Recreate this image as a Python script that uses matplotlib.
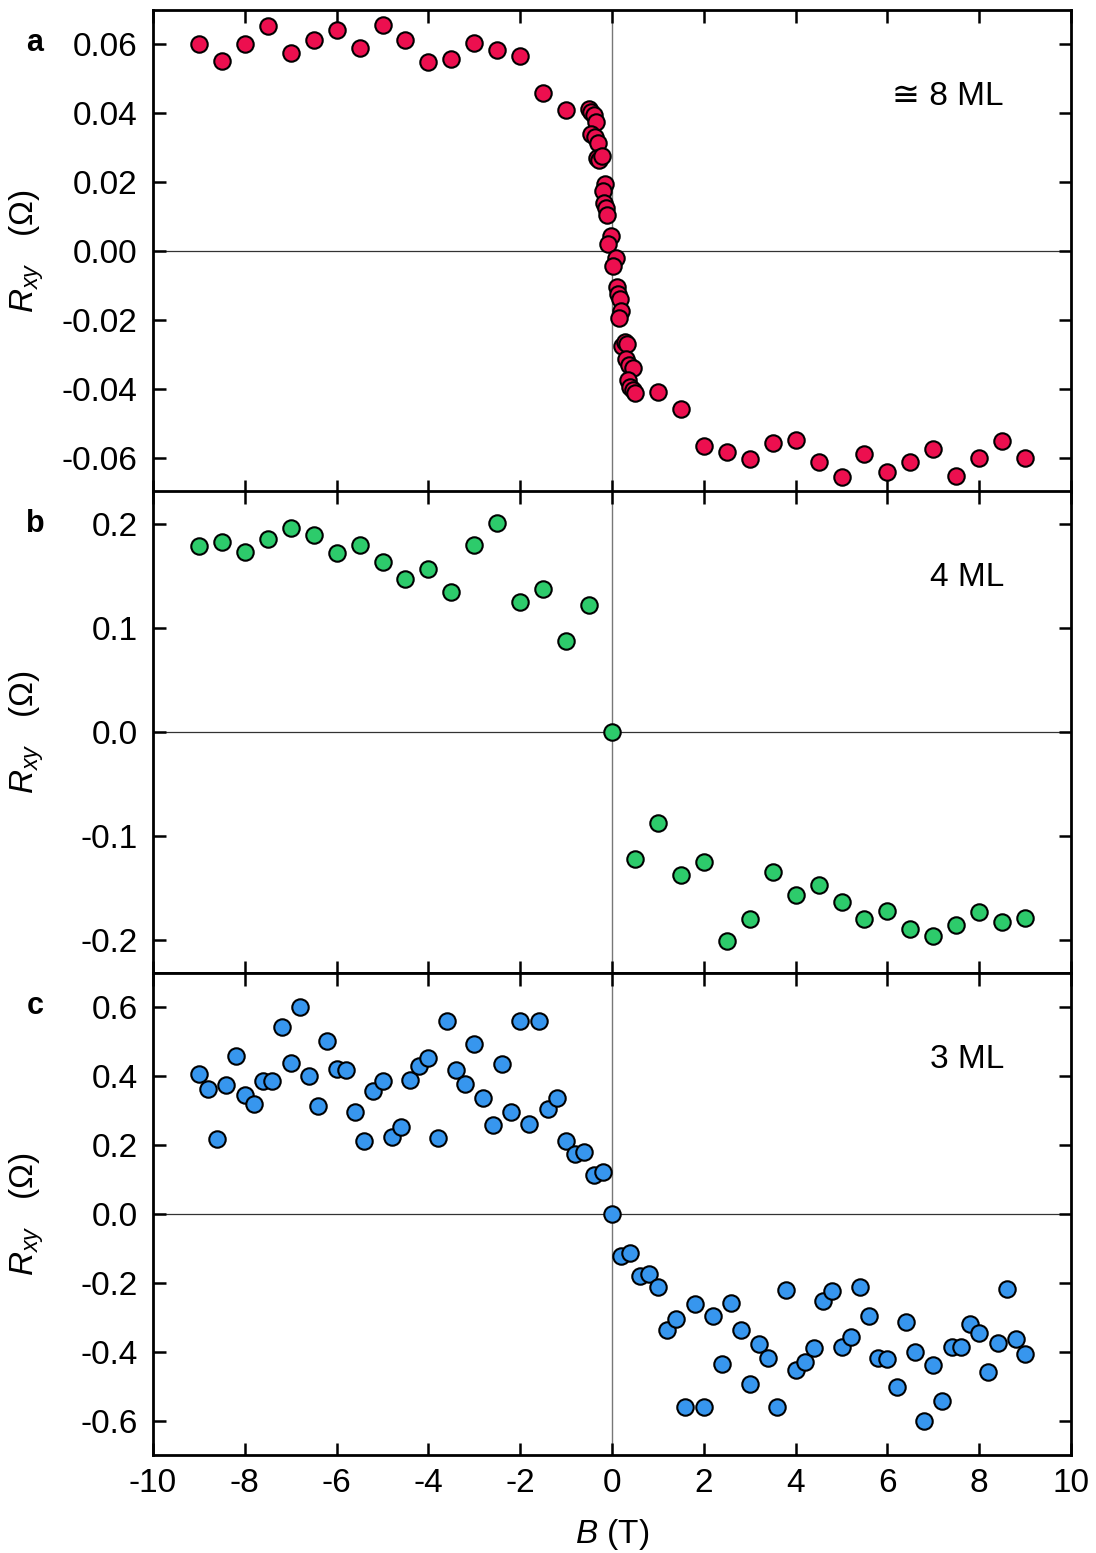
import matplotlib
matplotlib.use("Agg")
import matplotlib.pyplot as plt
from matplotlib.ticker import FormatStrFormatter, MultipleLocator

plt.rcParams['font.family'] = ['Liberation Sans', 'DejaVu Sans']
plt.rcParams['axes.unicode_minus'] = False
plt.rcParams['mathtext.fontset'] = 'custom'
plt.rcParams['mathtext.rm'] = 'Liberation Sans'
plt.rcParams['mathtext.it'] = 'Liberation Sans:italic'

# ---------------- data ----------------
# panel a (~8 ML)
B_a = [-9.0, -8.5, -8.0, -7.5, -7.0, -6.5, -6.0, -5.5, -5.0, -4.5, -4.0, -3.5, -3.0, -2.5, -2.0, -1.5, -1.0,
       -0.50, -0.45, -0.40, -0.35, -0.45, -0.38, -0.30, -0.33, -0.28, -0.22, -0.15, -0.20, -0.17, -0.13, -0.10, -0.03, -0.08,
       0.08, 0.03, 0.10, 0.13, 0.17, 0.20, 0.15, 0.22, 0.28, 0.33, 0.30, 0.38, 0.45, 0.35, 0.40, 0.45, 0.50,
       1.0, 1.5, 2.0, 2.5, 3.0, 3.5, 4.0, 4.5, 5.0, 5.5, 6.0, 6.5, 7.0, 7.5, 8.0, 8.5, 9.0]
R_a = [0.0602, 0.0551, 0.0601, 0.0653, 0.0575, 0.0612, 0.0643, 0.0590, 0.0656, 0.0614, 0.0549, 0.0559, 0.0604, 0.0585, 0.0567, 0.0458, 0.0409,
       0.0412, 0.0405, 0.0395, 0.0375, 0.0340, 0.0330, 0.0315, 0.0270, 0.0265, 0.0275, 0.0195, 0.0175, 0.0140, 0.0125, 0.0105, 0.0045, 0.0020,
       -0.0020, -0.0045, -0.0105, -0.0125, -0.0140, -0.0175, -0.0195, -0.0275, -0.0265, -0.0270, -0.0315, -0.0330, -0.0340, -0.0375, -0.0395, -0.0405, -0.0412,
       -0.0409, -0.0458, -0.0567, -0.0585, -0.0604, -0.0559, -0.0549, -0.0614, -0.0656, -0.0590, -0.0643, -0.0612, -0.0575, -0.0653, -0.0601, -0.0551, -0.0602]

# panel b (4 ML)
B_b = [-9.0, -8.5, -8.0, -7.5, -7.0, -6.5, -6.0, -5.5, -5.0, -4.5, -4.0, -3.5, -3.0, -2.5, -2.0, -1.5, -1.0, -0.5, 0.0,
       0.5, 1.0, 1.5, 2.0, 2.5, 3.0, 3.5, 4.0, 4.5, 5.0, 5.5, 6.0, 6.5, 7.0, 7.5, 8.0, 8.5, 9.0]
R_b = [0.179, 0.183, 0.173, 0.186, 0.196, 0.190, 0.172, 0.180, 0.164, 0.147, 0.157, 0.135, 0.180, 0.201, 0.125, 0.138, 0.088, 0.122, 0.0,
       -0.122, -0.088, -0.138, -0.125, -0.201, -0.180, -0.135, -0.157, -0.147, -0.164, -0.180, -0.172, -0.190, -0.196, -0.186, -0.173, -0.183, -0.179]

# panel c (3 ML)
B_c = [-9.0, -8.8, -8.6, -8.4, -8.2, -8.0, -7.8, -7.6, -7.4, -7.2, -7.0, -6.8, -6.6, -6.4, -6.2, -6.0, -5.8, -5.6, -5.4, -5.2,
       -5.0, -4.8, -4.6, -4.4, -4.2, -4.0, -3.8, -3.6, -3.4, -3.2, -3.0, -2.8, -2.6, -2.4, -2.2, -2.0, -1.8, -1.6, -1.4, -1.2,
       -1.0, -0.8, -0.6, -0.4, -0.2, 0.0,
       0.2, 0.4, 0.6, 0.8, 1.0, 1.2, 1.4, 1.6, 1.8, 2.0, 2.2, 2.4, 2.6, 2.8, 3.0, 3.2, 3.4, 3.6, 3.8, 4.0,
       4.2, 4.4, 4.6, 4.8, 5.0, 5.2, 5.4, 5.6, 5.8, 6.0, 6.2, 6.4, 6.6, 6.8, 7.0, 7.2, 7.4, 7.6, 7.8, 8.0,
       8.2, 8.4, 8.6, 8.8, 9.0]
R_c = [0.408, 0.363, 0.218, 0.376, 0.459, 0.347, 0.319, 0.386, 0.385, 0.542, 0.439, 0.602, 0.400, 0.315, 0.502, 0.421, 0.419, 0.296, 0.213, 0.357,
       0.386, 0.223, 0.254, 0.390, 0.431, 0.453, 0.222, 0.562, 0.418, 0.379, 0.495, 0.336, 0.259, 0.437, 0.295, 0.562, 0.261, 0.562, 0.305, 0.337,
       0.211, 0.174, 0.180, 0.112, 0.122, 0.0,
       -0.122, -0.112, -0.180, -0.174, -0.211, -0.337, -0.305, -0.562, -0.261, -0.562, -0.295, -0.437, -0.259, -0.336, -0.495, -0.379, -0.418, -0.562, -0.222, -0.453,
       -0.431, -0.390, -0.254, -0.223, -0.386, -0.357, -0.213, -0.296, -0.419, -0.421, -0.502, -0.315, -0.400, -0.602, -0.439, -0.542,
       -0.385, -0.386, -0.319, -0.347, -0.459, -0.376, -0.218, -0.363, -0.408]

panels = [
    dict(B=B_a, R=R_a, color='#EC0F4F', ylim=0.070, major=0.02, fmt='%.2f', letter='a', note='\u2245 8 ML'),
    dict(B=B_b, R=R_b, color='#2DCB6B', ylim=0.232, major=0.1, fmt='%.1f', letter='b', note='4 ML'),
    dict(B=B_c, R=R_c, color='#3796EE', ylim=0.70, major=0.2, fmt='%.1f', letter='c', note='3 ML'),
]

W, H = 1096, 1553
fig = plt.figure(figsize=(W / 100, H / 100), dpi=100)
left = 153 / W
width = (1071 - 153) / W
tops = [10, 491, 973]
ph = 482

for i, p in enumerate(panels):
    bottom = 1 - (tops[i] + ph) / H
    ax = fig.add_axes([left, bottom, width, ph / H])
    ax.axhline(0, color='#333333', lw=0.9, zorder=1)
    ax.axvline(0, color='#777777', lw=1.0, zorder=1)
    ax.scatter(p['B'], p['R'], s=140, c=p['color'], edgecolors='black', linewidths=1.5, zorder=3)
    ax.set_xlim(-10, 10)
    ax.set_ylim(-p['ylim'], p['ylim'])
    ax.xaxis.set_major_locator(MultipleLocator(2))
    ax.yaxis.set_major_locator(MultipleLocator(p['major']))
    ax.yaxis.set_major_formatter(FormatStrFormatter(p['fmt']))
    ax.tick_params(direction='in', length=9, width=1.8, top=True, right=True, labelsize=24)
    ax.tick_params(axis='y', pad=11)
    ax.tick_params(axis='x', pad=9)
    for s in ax.spines.values():
        s.set_linewidth(2.0)
    if i < 2:
        ax.tick_params(labelbottom=False)
    else:
        ax.set_xlabel(r'$B$ (T)', fontsize=24)
        ax.xaxis.set_label_coords(0.5, -0.128)
    ax.set_ylabel(r'$R_{xy}$   ($\Omega$)', fontsize=24)
    ax.yaxis.set_label_coords(-0.117, 0.5)
    ax.text(0.927, 0.82, p['note'], transform=ax.transAxes, ha='right', va='center',
            fontsize=24, family=['Liberation Sans', 'DejaVu Sans'])
    fig.text(35 / W, 1 - (tops[i] + 33) / H, p['letter'], fontsize=22, fontweight='bold',
             ha='center', va='center', family='Liberation Sans')

fig.savefig('out.png', dpi=100)
